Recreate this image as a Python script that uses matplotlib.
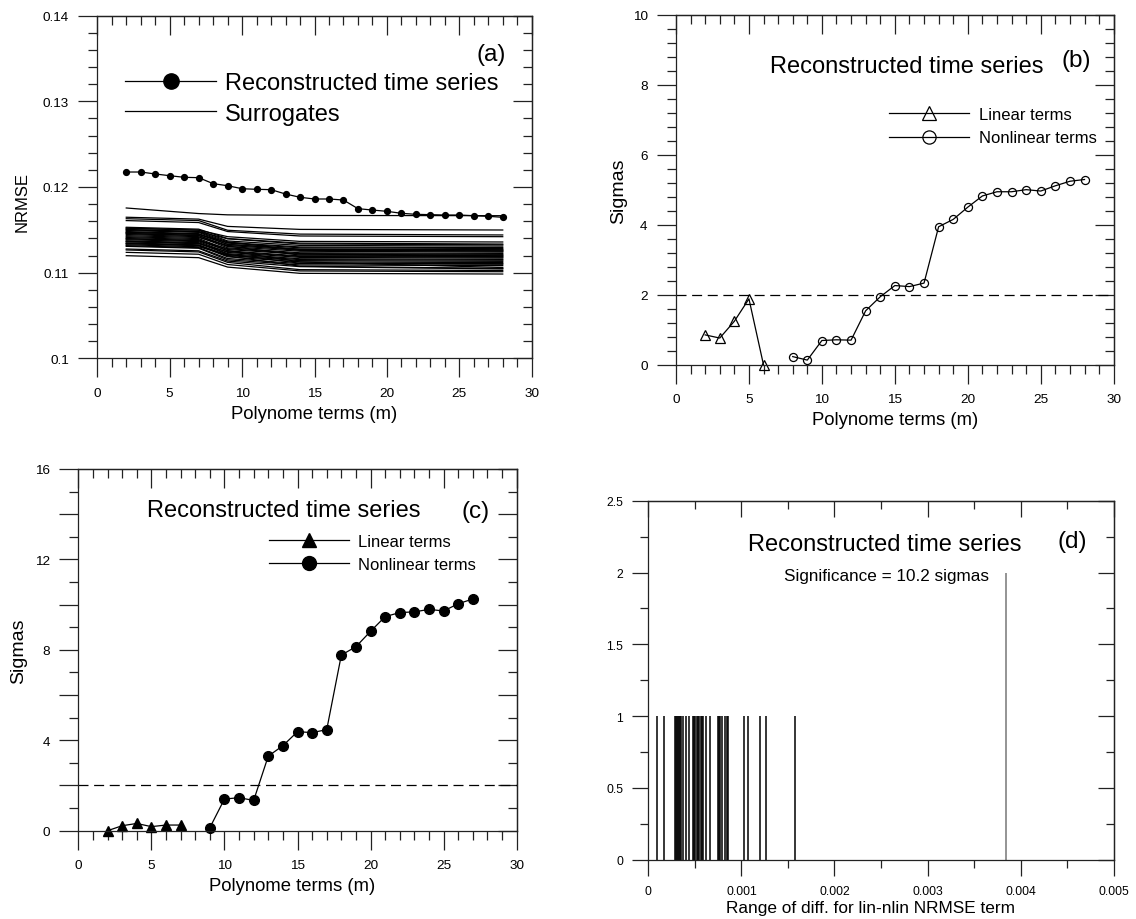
import matplotlib
matplotlib.use("Agg")
import matplotlib.pyplot as plt
from matplotlib.ticker import MultipleLocator, FuncFormatter, NullFormatter

plt.rcParams['font.family'] = ['Liberation Sans', 'DejaVu Sans']

# ---- (a) NRMSE vs polynome terms ----
m_rec = list(range(2, 29))
nrmse_rec = [0.12175, 0.12175, 0.12152, 0.12132, 0.12113, 0.12109, 0.12039, 0.12015,
             0.11980, 0.11973, 0.11969, 0.11918, 0.11880, 0.11860, 0.11860, 0.11848,
             0.11747, 0.11731, 0.11716, 0.11693, 0.11681, 0.11677, 0.11673, 0.11673,
             0.11665, 0.11658, 0.11646]

# surrogates read at m = 2, 7, 9, 14, 28
m_sur = [2, 7, 9, 14, 28]
surrogates = [
    [0.11755, 0.11690, 0.11675, 0.11668, 0.11665],
    [0.11647, 0.11625, 0.11540, 0.11505, 0.11498],
    [0.11630, 0.11608, 0.11495, 0.11450, 0.11440],
    [0.11608, 0.11585, 0.11480, 0.11428, 0.11420],
    [0.11530, 0.11508, 0.11398, 0.11345, 0.11334],
    [0.11518, 0.11495, 0.11370, 0.11318, 0.11310],
    [0.11505, 0.11480, 0.11395, 0.11335, 0.11325],
    [0.11492, 0.11470, 0.11345, 0.11290, 0.11282],
    [0.11480, 0.11455, 0.11330, 0.11272, 0.11265],
    [0.11470, 0.11448, 0.11352, 0.11300, 0.11292],
    [0.11458, 0.11435, 0.11305, 0.11250, 0.11240],
    [0.11445, 0.11420, 0.11290, 0.11232, 0.11225],
    [0.11432, 0.11410, 0.11318, 0.11262, 0.11255],
    [0.11420, 0.11398, 0.11270, 0.11215, 0.11205],
    [0.11410, 0.11386, 0.11255, 0.11195, 0.11188],
    [0.11398, 0.11375, 0.11280, 0.11222, 0.11214],
    [0.11385, 0.11362, 0.11236, 0.11178, 0.11170],
    [0.11372, 0.11350, 0.11222, 0.11162, 0.11155],
    [0.11360, 0.11338, 0.11245, 0.11188, 0.11180],
    [0.11348, 0.11325, 0.11200, 0.11140, 0.11132],
    [0.11338, 0.11315, 0.11185, 0.11125, 0.11118],
    [0.11326, 0.11302, 0.11210, 0.11152, 0.11145],
    [0.11315, 0.11292, 0.11165, 0.11105, 0.11098],
    [0.11307, 0.11285, 0.11150, 0.11090, 0.11082],
    [0.11365, 0.11342, 0.11215, 0.11110, 0.11105],
    [0.11455, 0.11432, 0.11310, 0.11205, 0.11198],
    [0.11500, 0.11478, 0.11360, 0.11260, 0.11250],
    [0.11395, 0.11372, 0.11258, 0.11125, 0.11060],
    [0.11340, 0.11318, 0.11195, 0.11075, 0.11050],
    [0.11276, 0.11255, 0.11135, 0.11070, 0.11043],
    [0.11265, 0.11242, 0.11120, 0.11035, 0.11025],
    [0.11237, 0.11215, 0.11095, 0.11020, 0.11011],
    [0.11198, 0.11175, 0.11065, 0.10992, 0.10984],
    [0.11520, 0.11497, 0.11420, 0.11365, 0.11358],
    [0.11470, 0.11447, 0.11330, 0.11275, 0.11268],
]

# ---- (b) sigmas, first data set ----
m_lin_b = [2, 3, 4, 5, 6]
sig_lin_b = [0.86, 0.77, 1.25, 1.89, 0.0]
m_nl_b = list(range(8, 29))
sig_nl_b = [0.24, 0.14, 0.70, 0.72, 0.71, 1.55, 1.95, 2.27, 2.24, 2.34, 3.95,
            4.16, 4.51, 4.83, 4.95, 4.95, 5.01, 4.97, 5.12, 5.25, 5.30]

# ---- (c) sigmas, second data set ----
m_lin_c = [2, 3, 4, 5, 6, 7]
sig_lin_c = [0.0, 0.22, 0.32, 0.18, 0.25, 0.25]
m_nl_c = list(range(9, 28))
sig_nl_c = [0.13, 1.40, 1.46, 1.34, 3.30, 3.76, 4.38, 4.34, 4.47, 7.77,
            8.14, 8.82, 9.47, 9.65, 9.68, 9.79, 9.72, 10.04, 10.25]

# ---- (d) histogram of lin-nlin differences ----
sur_diff = [0.000089, 0.000171, 0.000282, 0.000293, 0.000304, 0.000314, 0.000325,
            0.000336, 0.000346, 0.000375, 0.000404, 0.000432, 0.000475, 0.000489,
            0.000504, 0.000518, 0.000532, 0.000546, 0.000561, 0.000575, 0.000589,
            0.000625, 0.000668, 0.000750, 0.000761, 0.000775, 0.000789, 0.000825,
            0.000846, 0.000857, 0.001025, 0.001075, 0.001204, 0.001268, 0.001575]
sur_count = [1] * len(sur_diff)
orig_diff = [0.003846]
orig_count = [2]

W, H = 1136, 920
fig = plt.figure(figsize=(W / 100, H / 100), dpi=100)


def add_ax(left, top, right, bottom):
    return fig.add_axes([left / W, 1 - bottom / H, (right - left) / W, (bottom - top) / H])


def style(ax, xlim, ylim, xmaj, xmin, ymaj, ymin, maj_len=13.5, min_len=6.5, size=9.7, pad=7,
          yfmt=None):
    ax.set_xlim(*xlim)
    ax.set_ylim(*ylim)
    for s in ax.spines.values():
        s.set_linewidth(0.9)
        s.set_color('#222222')
    ax.xaxis.set_major_locator(MultipleLocator(xmaj))
    ax.xaxis.set_minor_locator(MultipleLocator(xmin))
    ax.yaxis.set_major_locator(MultipleLocator(ymaj))
    ax.yaxis.set_minor_locator(MultipleLocator(ymin))
    ax.xaxis.set_major_formatter(FuncFormatter(lambda v, p: f"{v:g}"))
    ax.yaxis.set_major_formatter(yfmt or FuncFormatter(lambda v, p: f"{v:g}"))
    ax.tick_params(which='both', direction='out', top=False, right=False,
                   labelsize=size, pad=pad, width=0.9, color='#222222')
    ax.tick_params(which='major', length=maj_len)
    ax.tick_params(which='minor', length=min_len)
    # inward ticks on top and right
    top = ax.secondary_xaxis('top')
    top.xaxis.set_major_locator(MultipleLocator(xmaj))
    top.xaxis.set_minor_locator(MultipleLocator(xmin))
    top.xaxis.set_major_formatter(NullFormatter())
    top.tick_params(which='both', direction='in', width=0.9, color='#222222')
    top.tick_params(which='major', length=maj_len)
    top.tick_params(which='minor', length=min_len)
    right = ax.secondary_yaxis('right')
    right.yaxis.set_major_locator(MultipleLocator(ymaj))
    right.yaxis.set_minor_locator(MultipleLocator(ymin))
    right.yaxis.set_major_formatter(NullFormatter())
    right.tick_params(which='both', direction='in', width=0.9, color='#222222')
    right.tick_params(which='major', length=maj_len)
    right.tick_params(which='minor', length=min_len)
    for sec in (top, right):
        for s in sec.spines.values():
            s.set_linewidth(0.9)
            s.set_color('#222222')


TITLE = "Reconstructed time series"
XLAB = "Polynome terms (m)"

# ---------- (a) ----------
ax = add_ax(97.3, 16.7, 531.7, 359.3)
style(ax, (0, 30), (0.1, 0.14), 5, 1, 0.01, 0.002)
rec_line, = ax.plot(m_rec, nrmse_rec, color='black', lw=0.9, marker='o', ms=4.2)
sur_line = None
for sur in surrogates:
    ln, = ax.plot(m_sur, sur, color='black', lw=0.9)
    if sur_line is None:
        sur_line = ln
leg = ax.legend([rec_line, sur_line], ["Reconstructed time series", "Surrogates"],
                loc='upper left', bbox_to_anchor=(0.0638, 0.835), frameon=False,
                borderpad=0, borderaxespad=0, handlelength=3.86, handletextpad=0.38,
                labelspacing=0.36, fontsize=17)
leg.legend_handles[0].set_markersize(11)
ax.text(0.8734, 0.888, "(a)", transform=ax.transAxes, fontsize=17.5, va='center', ha='left')
ax.set_xlabel(XLAB, fontsize=13.3, va='center')
ax.xaxis.set_label_coords(0.5, -0.16)
ax.set_ylabel("NRMSE", fontsize=12, va='center')
ax.yaxis.set_label_coords(-0.174, 0.46)

# ---------- (b) ----------
ax = add_ax(676, 16, 1113.7, 366)
style(ax, (0, 30), (0, 10), 5, 1, 2, 0.4)
ax.axhline(2, color='black', lw=0.9, ls=(0, (8, 4.5)))
lin_b, = ax.plot(m_lin_b, sig_lin_b, color='black', lw=0.9, marker='^', ms=6.5,
                 mfc='none', mec='black', mew=0.9, clip_on=False)
nl_b, = ax.plot(m_nl_b, sig_nl_b, color='black', lw=0.9, marker='o', ms=5.8,
                mfc='none', mec='black', mew=0.9, clip_on=False)
leg = ax.legend([lin_b, nl_b], ["Linear terms", "Nonlinear terms"], loc='upper left',
                bbox_to_anchor=(0.4874, 0.737), frameon=False, borderpad=0, borderaxespad=0,
                handlelength=4.8, handletextpad=0.55, labelspacing=0.5, fontsize=12)
for h in leg.legend_handles:
    h.set_markersize(9.5)
ax.text(0.2148, 0.8363, TITLE, transform=ax.transAxes, fontsize=17, va='baseline', ha='left')
ax.text(0.881, 0.872, "(b)", transform=ax.transAxes, fontsize=17.5, va='center', ha='left')
ax.set_xlabel(XLAB, fontsize=13.3, va='center')
ax.xaxis.set_label_coords(0.5, -0.157)
ax.set_ylabel("Sigmas", fontsize=14, va='center')
ax.yaxis.set_label_coords(-0.1318, 0.5)

# ---------- (c) ----------
ax = add_ax(78.3, 470, 516.7, 831.7)
style(ax, (0, 30), (0, 16), 5, 1, 2, 1,
      yfmt=FuncFormatter(lambda v, p: f"{v:g}" if round(v) % 4 == 0 else ""))
ax.axhline(2, color='black', lw=0.9, ls=(0, (8, 4.5)))
lin_c, = ax.plot(m_lin_c, sig_lin_c, color='black', lw=0.9, marker='^', ms=6.5, clip_on=False)
nl_c, = ax.plot(m_nl_c, sig_nl_c, color='black', lw=0.9, marker='o', ms=7, clip_on=False)
leg = ax.legend([lin_c, nl_c], ["Linear terms", "Nonlinear terms"], loc='upper left',
                bbox_to_anchor=(0.4357, 0.8195), frameon=False, borderpad=0, borderaxespad=0,
                handlelength=4.8, handletextpad=0.55, labelspacing=0.45, fontsize=12)
for h in leg.legend_handles:
    h.set_markersize(10)
ax.text(0.156, 0.869, TITLE, transform=ax.transAxes, fontsize=17, va='baseline', ha='left')
ax.text(0.8745, 0.885, "(c)", transform=ax.transAxes, fontsize=17.5, va='center', ha='left')
ax.set_xlabel(XLAB, fontsize=13.3, va='center')
ax.xaxis.set_label_coords(0.487, -0.152)
ax.set_ylabel("Sigmas", fontsize=14, va='center')
ax.yaxis.set_label_coords(-0.137, 0.5)

# ---------- (d) ----------
ax = add_ax(648.3, 501.7, 1113.7, 860.7)
style(ax, (0, 0.005), (0, 2.5), 0.001, 0.0005, 0.5, 0.25, maj_len=11.5, min_len=5.5,
      size=8.8, pad=6.5)
ax.vlines(sur_diff, 0, sur_count, color='black', lw=1.1)
ax.vlines(orig_diff, 0, orig_count, color='#777777', lw=1.1)
ax.text(0.2133, 0.8635, TITLE, transform=ax.transAxes, fontsize=17, va='baseline', ha='left')
ax.text(0.8797, 0.8886, "(d)", transform=ax.transAxes, fontsize=17.5, va='center', ha='left')
ax.text(0.2926, 0.78, "Significance = 10.2 sigmas", transform=ax.transAxes, fontsize=12.3,
        va='baseline', ha='left')
ax.set_xlabel("Range of diff. for lin-nlin NRMSE term", fontsize=12.4, va='center')
ax.xaxis.set_label_coords(0.477, -0.132)

fig.savefig("out.png", dpi=100)
